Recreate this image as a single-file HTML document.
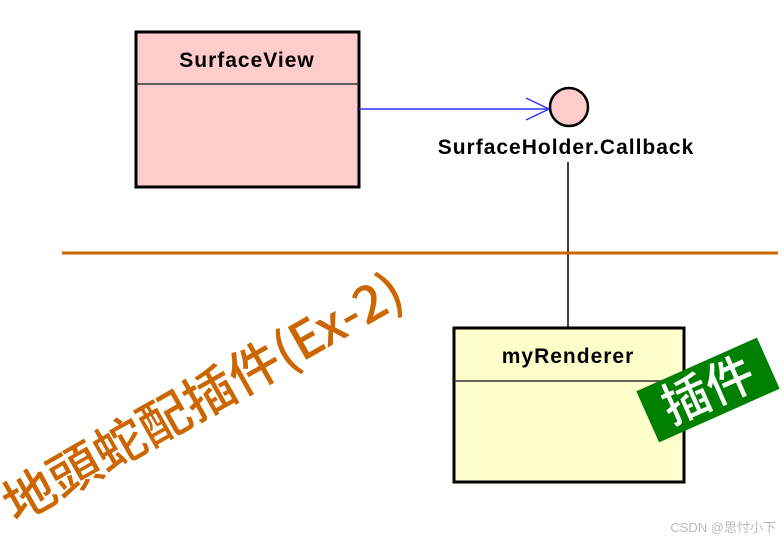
<!DOCTYPE html>
<html><head><meta charset="utf-8"><style>
body{margin:0;width:784px;height:540px;background:#fff;overflow:hidden;position:relative;font-family:"Liberation Sans","Noto Sans CJK SC",sans-serif}
</style></head><body>
<svg width="784" height="540" style="position:absolute;left:0;top:0">
<rect x="136" y="32" width="223" height="155" fill="#ffcccc" stroke="#000" stroke-width="3"/>
<line x1="136" y1="84" x2="359" y2="84" stroke="#333" stroke-width="1.5"/>
<text x="247" y="67" text-anchor="middle" font-size="21" letter-spacing="1" font-weight="bold" font-family="Liberation Sans,sans-serif">SurfaceView</text>
<line x1="359" y1="109" x2="549" y2="109" stroke="#3333ff" stroke-width="1.5"/>
<polyline points="526,98 549,109 526,120" fill="none" stroke="#3333ff" stroke-width="1.5"/>
<circle cx="569" cy="107" r="19" fill="#ffcccc" stroke="#000" stroke-width="2.5"/>
<text x="566" y="154" text-anchor="middle" font-size="21" letter-spacing="1" font-weight="bold" font-family="Liberation Sans,sans-serif">SurfaceHolder.Callback</text>
<line x1="568" y1="162" x2="568" y2="327" stroke="#000" stroke-width="1.5"/>
<line x1="62" y1="253" x2="778" y2="253" stroke="#cc6600" stroke-width="3"/>
<rect x="454" y="328" width="230" height="154" fill="#ffffcc" stroke="#000" stroke-width="3"/>
<line x1="454" y1="381" x2="684" y2="381" stroke="#333" stroke-width="1.5"/>
<text x="568" y="363" text-anchor="middle" font-size="21" letter-spacing="1" font-weight="bold" font-family="Liberation Sans,sans-serif">myRenderer</text>
<g transform="translate(708,390) rotate(-24)">
<rect x="-66" y="-28" width="132" height="56" fill="#008000"/>
<text x="0" y="17" text-anchor="middle" font-size="48" font-weight="500" fill="#fff" font-family="Noto Sans CJK SC,sans-serif">插件</text>
</g>
<g transform="translate(16,524) rotate(-29.5)">
<text x="0" y="0" font-size="51" font-weight="500" fill="#cc6600" font-family="Noto Sans CJK SC,sans-serif" textLength="450" lengthAdjust="spacingAndGlyphs">地頭蛇配插件(Ex-2)</text>
</g>
<text x="776" y="532" text-anchor="end" font-size="13" fill="#bbb" font-family="Liberation Sans,Noto Sans CJK SC,sans-serif">CSDN @思忖小下</text>
</svg>
</body></html>
